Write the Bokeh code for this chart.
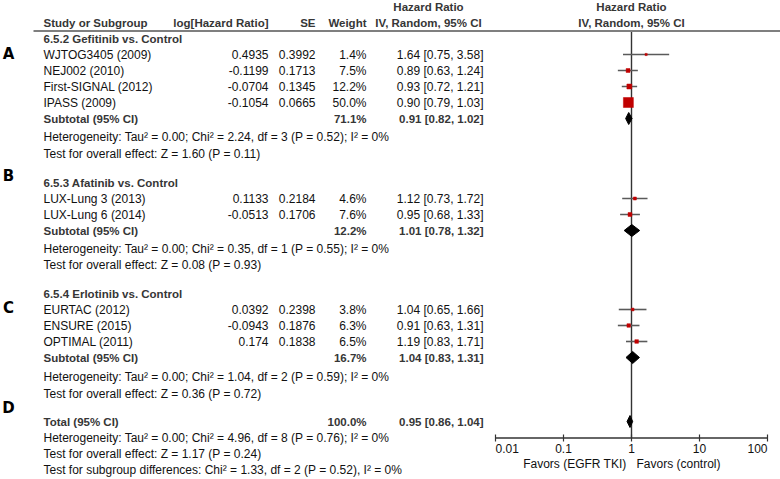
import math
from bokeh.plotting import figure
from bokeh.models import ColumnDataSource, Range1d, LogScale
from bokeh.core.properties import value
from bokeh.embed import file_html
from bokeh.resources import INLINE

# ---------------- data ----------------
group_titles = ["6.5.2 Gefitinib vs. Control", "6.5.3 Afatinib vs. Control",
                "6.5.4 Erlotinib vs. Control"]
panel_letters = ["A", "B", "C", "D"]

study_names = ["WJTOG3405 (2009)", "NEJ002 (2010)", "First-SIGNAL (2012)", "IPASS (2009)",
               "LUX-Lung 3 (2013)", "LUX-Lung 6 (2014)",
               "EURTAC (2012)", "ENSURE (2015)", "OPTIMAL (2011)"]
log_hr = [0.4935, -0.1199, -0.0704, -0.1054, 0.1133, -0.0513, 0.0392, -0.0943, 0.174]
se = [0.3992, 0.1713, 0.1345, 0.0665, 0.2184, 0.1706, 0.2398, 0.1876, 0.1838]
weight = [1.4, 7.5, 12.2, 50.0, 4.6, 7.6, 3.8, 6.3, 6.5]
hr = [1.64, 0.89, 0.93, 0.90, 1.12, 0.95, 1.04, 0.91, 1.19]
hr_lo = [0.75, 0.63, 0.72, 0.79, 0.73, 0.68, 0.65, 0.63, 0.83]
hr_hi = [3.58, 1.24, 1.21, 1.03, 1.72, 1.33, 1.66, 1.31, 1.71]

sub_weight = [71.1, 12.2, 16.7]
sub_hr = [0.91, 1.01, 1.04]
sub_lo = [0.82, 0.78, 0.83]
sub_hi = [1.02, 1.32, 1.31]
sub_het = ["Heterogeneity: Tau² = 0.00; Chi² = 2.24, df = 3 (P = 0.52); I² = 0%",
           "Heterogeneity: Tau² = 0.00; Chi² = 0.35, df = 1 (P = 0.55); I² = 0%",
           "Heterogeneity: Tau² = 0.00; Chi² = 1.04, df = 2 (P = 0.59); I² = 0%"]
sub_test = ["Test for overall effect: Z = 1.60 (P = 0.11)",
            "Test for overall effect: Z = 0.08 (P = 0.93)",
            "Test for overall effect: Z = 0.36 (P = 0.72)"]

total_weight = 100.0
total_hr = 0.95
total_lo = 0.86
total_hi = 1.04
total_het = "Heterogeneity: Tau² = 0.00; Chi² = 4.96, df = 8 (P = 0.76); I² = 0%"
total_test = "Test for overall effect: Z = 1.17 (P = 0.24)"
subgroup_test = "Test for subgroup differences: Chi² = 1.33, df = 2 (P = 0.52), I² = 0%"

axis_ticks = [0.01, 0.1, 1, 10, 100]
axis_tick_labels = ["0.01", "0.1", "1", "10", "100"]
favors_left = "Favors (EGFR TKI)"
favors_right = "Favors (control)"

# ---------------- layout (reference pixel rows) ----------------
heading_y = [38, 182, 293]
study_y = [54, 70, 86, 102, 198, 214, 309, 325, 341]
subtotal_y = [118, 230, 357]
het_y = [136, 248, 376]
test_y = [153, 264, 393]
letter_y = [53, 175, 307, 407]
total_y = 421
total_het_y = 437
total_test_y = 453
subgroup_y = 469
axis_y = 437.5

X_NAME, X_LOG, X_SE, X_W, X_CI, X_CIH = 43, 268, 315, 366, 483, 428
AX_L, AX_R = 495, 767  # where 0.01 and 100 fall

FONT = "Liberation Sans"
REG = "#111111"
BOLD = "#363636"

W, H = 780, 479
p = figure(width=W, height=H, x_range=Range1d(0, W), y_range=Range1d(H, 0),
           output_backend="svg", toolbar_location=None, min_border=0,
           x_axis_location=None, y_axis_location=None)
p.grid.visible = False
p.outline_line_color = None

dec = (AX_R - AX_L) / 4.0
p.extra_x_ranges = {"hr": Range1d(10 ** (-2 - AX_L / dec), 10 ** (2 + (W - AX_R) / dec))}
p.extra_x_scales = {"hr": LogScale()}


def txt(xs, ys, texts, align="left", bold=False, size=None, color=None, font=FONT,
        rn=None, x_offset=0):
    src = ColumnDataSource(dict(x=list(xs), y=list(ys), text=list(texts)))
    kw = {}
    if rn:
        kw["x_range_name"] = rn
    p.text(x="x", y="y", text="text", source=src, text_font=value(font),
           text_font_size=size or ("11.5px" if bold else "12px"),
           text_font_style="bold" if bold else "normal",
           text_align=align, text_baseline="middle",
           text_color=color or (BOLD if bold else REG), x_offset=x_offset, **kw)


# header
p.segment(x0=[33], x1=[780], y0=[30.5], y1=[30.5], line_color="#555555", line_width=1.5)
txt([X_NAME], [22], ["Study or Subgroup"], bold=True)
txt([X_LOG], [22], ["log[Hazard Ratio]"], align="right", bold=True)
txt([X_SE], [22], ["SE"], align="right", bold=True)
txt([X_W], [22], ["Weight"], align="right", bold=True)
txt([X_CIH, X_CIH], [6, 22], ["Hazard Ratio", "IV, Random, 95% CI"], align="center", bold=True)
txt([1, 1], [6, 22], ["Hazard Ratio", "IV, Random, 95% CI"], align="center", bold=True, rn="hr")

# panel letters
txt([8] * 4, letter_y, panel_letters, align="center", bold=True, size="15px",
    color="#000000", font="DejaVu Sans")

# subgroup headings
txt([X_NAME] * 3, heading_y, group_titles, bold=True)

# study rows
txt([X_NAME] * len(study_names), study_y, study_names)
txt([X_LOG] * len(log_hr), study_y, [f"{v:g}" for v in log_hr], align="right")
txt([X_SE] * len(se), study_y, [f"{v:g}" for v in se], align="right")
txt([X_W] * len(weight), study_y, [f"{v:.1f}%" for v in weight], align="right")
txt([X_CI] * len(hr), study_y,
    [f"{a:.2f} [{b:.2f}, {c:.2f}]" for a, b, c in zip(hr, hr_lo, hr_hi)], align="right")

# subtotals
txt([X_NAME] * 3, subtotal_y, ["Subtotal (95% CI)"] * 3, bold=True)
txt([X_W] * 3, subtotal_y, [f"{v:.1f}%" for v in sub_weight], align="right", bold=True)
txt([X_CI] * 3, subtotal_y,
    [f"{a:.2f} [{b:.2f}, {c:.2f}]" for a, b, c in zip(sub_hr, sub_lo, sub_hi)],
    align="right", bold=True)
txt([X_NAME] * 3, het_y, sub_het)
txt([X_NAME] * 3, test_y, sub_test)

# total
txt([X_NAME], [total_y], ["Total (95% CI)"], bold=True)
txt([X_W], [total_y], [f"{total_weight:.1f}%"], align="right", bold=True)
txt([X_CI], [total_y], [f"{total_hr:.2f} [{total_lo:.2f}, {total_hi:.2f}]"],
    align="right", bold=True)
txt([X_NAME] * 3, [total_het_y, total_test_y, subgroup_y],
    [total_het, total_test, subgroup_test])

# ---------------- forest plot ----------------
p.segment(x0=[1], x1=[1], y0=[31.5], y1=[axis_y], line_color="#333333", line_width=1.4,
          x_range_name="hr")
p.segment(x0=hr_lo, x1=hr_hi, y0=study_y, y1=study_y, line_color="#5a5a5a",
          line_width=1.6, x_range_name="hr")
sizes = [max(2.2, 10.0 * math.sqrt(w / 50.0)) for w in weight]
p.scatter(x=hr, y=study_y, size=sizes, marker="square", fill_color="#c00000",
          line_color="#c00000", line_width=0.5, x_range_name="hr")

dia_x = [[lo, m, hi, m] for m, lo, hi in zip(sub_hr + [total_hr], sub_lo + [total_lo],
                                            sub_hi + [total_hi])]
dia_y = [[y, y - 6, y, y + 6] for y in subtotal_y + [total_y]]
p.patches(xs=dia_x, ys=dia_y, fill_color="#000000", line_color="#000000", line_width=1,
          x_range_name="hr")

# axis
p.segment(x0=[axis_ticks[0]], x1=[axis_ticks[-1]], y0=[axis_y], y1=[axis_y],
          line_color="#333333", line_width=1.4, x_range_name="hr")
p.segment(x0=axis_ticks, x1=axis_ticks, y0=[axis_y - 3.5] * 5, y1=[axis_y + 3.5] * 5,
          line_color="#333333", line_width=1.2, x_range_name="hr")
txt(axis_ticks[:1], [448], axis_tick_labels[:1], align="left", rn="hr")
txt(axis_ticks[1:-1], [448] * 3, axis_tick_labels[1:-1], align="center", rn="hr")
txt(axis_ticks[-1:], [448], axis_tick_labels[-1:], align="right", rn="hr")
txt([1], [463], [favors_left], align="right", rn="hr", x_offset=-5)
txt([1], [463], [favors_right], align="left", rn="hr", x_offset=5)

open("out.html", "w").write(file_html(p, INLINE))
